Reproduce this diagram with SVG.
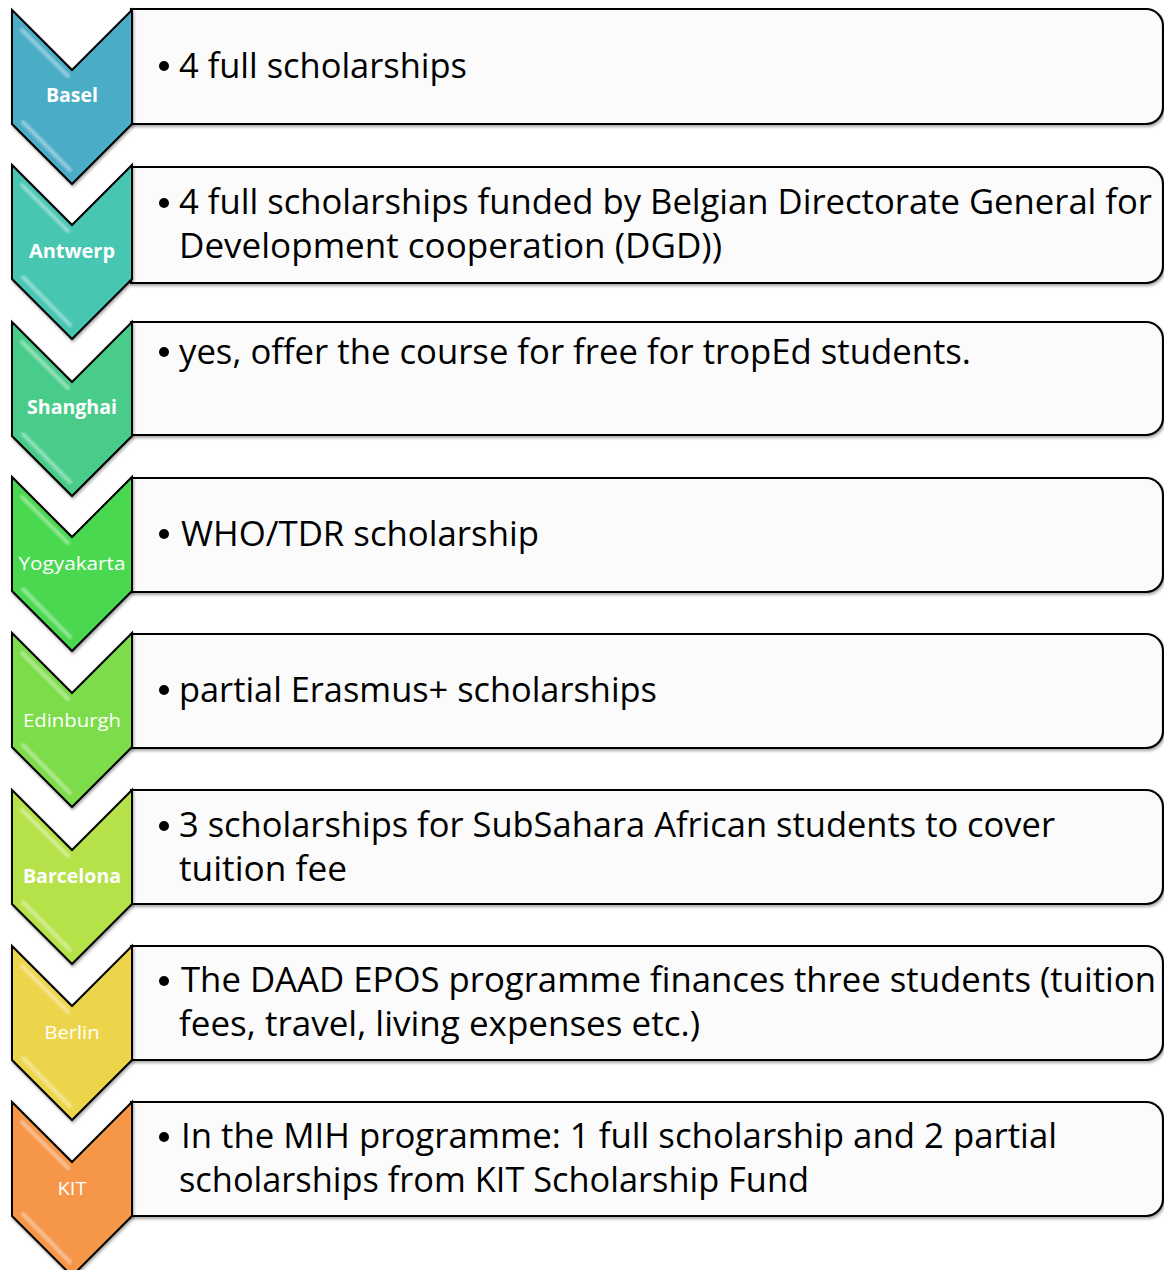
<svg xmlns="http://www.w3.org/2000/svg" width="1164" height="1270" viewBox="0 0 1164 1270">
<defs>
<style>
.box{fill:#fbfbfb;stroke:#000;stroke-width:2.2;filter:url(#sh)}
.chev{stroke:#000;stroke-width:2;stroke-linejoin:miter;filter:url(#sh)}
.hl{fill:none;stroke:#fff;stroke-opacity:.4;stroke-width:4;stroke-linecap:round;filter:url(#bl)}
.lbl{font-family:"Open Sans","Liberation Sans",sans-serif;font-size:19px;fill:#fff;text-anchor:middle}
.b{font-weight:bold}
.txt{font-family:"Open Sans","Liberation Sans",sans-serif;font-size:34px;fill:#000}
.dot{fill:#000}
</style>
<filter id="sh" x="-10%" y="-10%" width="120%" height="120%">
<feGaussianBlur in="SourceAlpha" stdDeviation="1.5"/>
<feOffset dx="1" dy="1.5" result="o"/>
<feComponentTransfer><feFuncA type="linear" slope="0.35"/></feComponentTransfer>
<feMerge><feMergeNode/><feMergeNode in="SourceGraphic"/></feMerge>
</filter>
<filter id="bl"><feGaussianBlur stdDeviation="1"/></filter>
<path id="chevshape" d="M12,0 L72,60 L132,0 L132,114 L72,174 L12,114 Z"/>
</defs>

<g id="basel">
<path class="box" d="M131,9 H1146 A17,17 0 0 1 1163,26 V107 A17,17 0 0 1 1146,124 H131 Z"/>
<g transform="translate(0,10)"><use href="#chevshape" class="chev" fill="#4BACC6"/><path class="hl" d="M22,20 L68,66 M23,112 L70,160"/></g>
<text class="lbl b" x="72" y="102" textLength="52" lengthAdjust="spacingAndGlyphs">Basel</text>
<circle class="dot" cx="164" cy="66" r="5"/>
<text class="txt" x="179" y="78" textLength="288" lengthAdjust="spacingAndGlyphs">4 full scholarships</text>
</g>

<g id="antwerp">
<path class="box" d="M131,167 H1146 A17,17 0 0 1 1163,184 V266 A17,17 0 0 1 1146,283 H131 Z"/>
<g transform="translate(0,165)"><use href="#chevshape" class="chev" fill="#47C6B1"/><path class="hl" d="M22,20 L68,66 M23,112 L70,160"/></g>
<text class="lbl b" x="72" y="258" textLength="86" lengthAdjust="spacingAndGlyphs">Antwerp</text>
<circle class="dot" cx="164" cy="203" r="5"/>
<text class="txt" x="179" y="214" textLength="973" lengthAdjust="spacingAndGlyphs">4 full scholarships funded by Belgian Directorate General for</text>
<text class="txt" x="179" y="258" textLength="543" lengthAdjust="spacingAndGlyphs">Development cooperation (DGD))</text>
</g>

<g id="shanghai">
<path class="box" d="M131,322 H1146 A17,17 0 0 1 1163,339 V418 A17,17 0 0 1 1146,435 H131 Z"/>
<g transform="translate(0,322)"><use href="#chevshape" class="chev" fill="#48CC8A"/><path class="hl" d="M22,20 L68,66 M23,112 L70,160"/></g>
<text class="lbl b" x="72" y="414" textLength="90" lengthAdjust="spacingAndGlyphs">Shanghai</text>
<circle class="dot" cx="164" cy="352" r="5"/>
<text class="txt" x="179" y="364" textLength="792" lengthAdjust="spacingAndGlyphs">yes, offer the course for free for tropEd students.</text>
</g>

<g id="yogyakarta">
<path class="box" d="M131,478 H1146 A17,17 0 0 1 1163,495 V575 A17,17 0 0 1 1146,592 H131 Z"/>
<g transform="translate(0,477)"><use href="#chevshape" class="chev" fill="#49D84F"/><path class="hl" d="M22,20 L68,66 M23,112 L70,160"/></g>
<text class="lbl" x="72" y="570" textLength="107" lengthAdjust="spacingAndGlyphs">Yogyakarta</text>
<circle class="dot" cx="164" cy="534" r="5"/>
<text class="txt" x="181" y="546" textLength="358" lengthAdjust="spacingAndGlyphs">WHO/TDR scholarship</text>
</g>

<g id="edinburgh">
<path class="box" d="M131,634 H1146 A17,17 0 0 1 1163,651 V731 A17,17 0 0 1 1146,748 H131 Z"/>
<g transform="translate(0,633)"><use href="#chevshape" class="chev" fill="#7CDC4A"/><path class="hl" d="M22,20 L68,66 M23,112 L70,160"/></g>
<text class="lbl" x="72" y="727" textLength="98" lengthAdjust="spacingAndGlyphs">Edinburgh</text>
<circle class="dot" cx="164" cy="690" r="5"/>
<text class="txt" x="179" y="702" textLength="478" lengthAdjust="spacingAndGlyphs">partial Erasmus+ scholarships</text>
</g>

<g id="barcelona">
<path class="box" d="M131,790 H1146 A17,17 0 0 1 1163,807 V887 A17,17 0 0 1 1146,904 H131 Z"/>
<g transform="translate(0,790)"><use href="#chevshape" class="chev" fill="#B6E24A"/><path class="hl" d="M22,20 L68,66 M23,112 L70,160"/></g>
<text class="lbl b" x="72" y="883" textLength="98" lengthAdjust="spacingAndGlyphs">Barcelona</text>
<circle class="dot" cx="164" cy="826" r="5"/>
<text class="txt" x="179" y="837" textLength="876" lengthAdjust="spacingAndGlyphs">3 scholarships for SubSahara African students to cover</text>
<text class="txt" x="179" y="881" textLength="168" lengthAdjust="spacingAndGlyphs">tuition fee</text>
</g>

<g id="berlin">
<path class="box" d="M131,946 H1146 A17,17 0 0 1 1163,963 V1043 A17,17 0 0 1 1146,1060 H131 Z"/>
<g transform="translate(0,946)"><use href="#chevshape" class="chev" fill="#EDD54C"/><path class="hl" d="M22,20 L68,66 M23,112 L70,160"/></g>
<text class="lbl" x="72" y="1039" textLength="55" lengthAdjust="spacingAndGlyphs">Berlin</text>
<circle class="dot" cx="164" cy="981" r="5"/>
<text class="txt" x="181" y="992" textLength="975" lengthAdjust="spacingAndGlyphs">The DAAD EPOS programme finances three students (tuition</text>
<text class="txt" x="179" y="1036" textLength="521" lengthAdjust="spacingAndGlyphs">fees, travel, living expenses etc.)</text>
</g>

<g id="kit">
<path class="box" d="M131,1102 H1146 A17,17 0 0 1 1163,1119 V1199 A17,17 0 0 1 1146,1216 H131 Z"/>
<g transform="translate(0,1102)"><use href="#chevshape" class="chev" fill="#F5964A"/><path class="hl" d="M22,20 L68,66 M23,112 L70,160"/></g>
<text class="lbl" x="72" y="1195" textLength="29" lengthAdjust="spacingAndGlyphs">KIT</text>
<circle class="dot" cx="164" cy="1137" r="5"/>
<text class="txt" x="181" y="1148" textLength="876" lengthAdjust="spacingAndGlyphs">In the MIH programme: 1 full scholarship and 2 partial</text>
<text class="txt" x="179" y="1192" textLength="630" lengthAdjust="spacingAndGlyphs">scholarships from KIT Scholarship Fund</text>
</g>

<g id="connectors"></g>
</svg>
